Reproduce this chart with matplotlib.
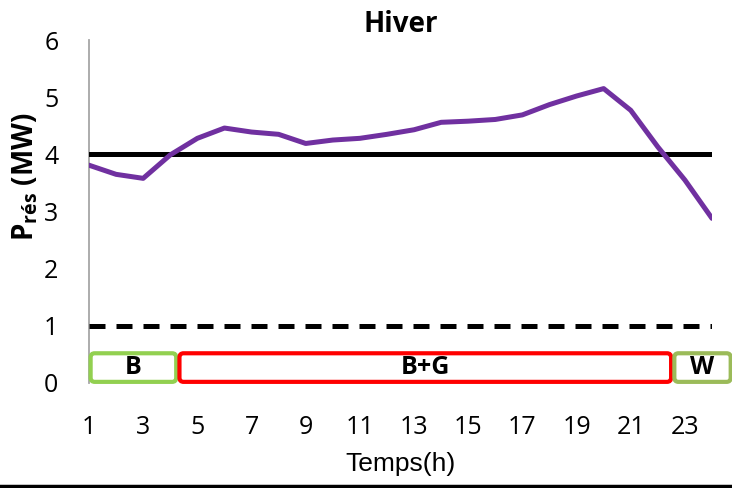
import matplotlib
matplotlib.use("Agg")
import matplotlib.pyplot as plt
from matplotlib.patches import FancyBboxPatch
from matplotlib.lines import Line2D

plt.rcParams['font.family'] = ['Open Sans', 'DejaVu Sans']
plt.rcParams['mathtext.fontset'] = 'custom'
plt.rcParams['mathtext.bf'] = 'Open Sans:bold'
plt.rcParams['mathtext.rm'] = 'Open Sans'

hours = list(range(1, 25))
p_res = [3.81, 3.65, 3.58, 3.99, 4.28, 4.46, 4.39, 4.35, 4.19, 4.25, 4.28, 4.35,
         4.43, 4.56, 4.58, 4.61, 4.69, 4.87, 5.02, 5.15, 4.77, 4.13, 3.55, 2.88]
upper_limit = 4
lower_limit = 1
xtick_vals = list(range(1, 25, 2))
ytick_vals = [0, 1, 2, 3, 4, 5, 6]

# operating mode boxes: (start hour, end hour, label, edge colour)
modes_start = [1.0, 4.28, 22.55]
modes_end = [4.28, 22.55, 24.75]
modes_label = ["B", "B+G", "W"]
modes_color = ["#92D050", "#FF0000", "#9BBB59"]

fig = plt.figure(figsize=(7.32, 4.88), dpi=100)
ax = fig.add_axes([89/732, 1-383/488, (712-89)/732, (383-40)/488])

ax.plot(hours, [upper_limit]*len(hours), color='black', lw=3.6, solid_capstyle='round', zorder=3)
ax.plot([1, 24.1], [lower_limit]*2, color='black', lw=3.6, dashes=(3.2, 2.2), zorder=3)
ax.plot(hours, p_res, color='#7030A0', lw=3.6, solid_capstyle='round', solid_joinstyle='round', zorder=4)

for s, e, lab, c in zip(modes_start, modes_end, modes_label, modes_color):
    box = FancyBboxPatch((s + 0.06, 0.02), (e - s) - 0.12, 0.5,
                         boxstyle="round,pad=0,rounding_size=0.15",
                         mutation_aspect=0.5,
                         facecolor='white', edgecolor=c, lw=3.0, clip_on=False, zorder=5)
    ax.add_patch(box)
    ax.text((s + e) / 2, 0.27, lab, ha='center', va='center', fontsize=18,
            fontweight='bold', zorder=6, clip_on=False)

ax.set_xlim(1, 24)
ax.set_ylim(0, 6)
ax.set_xticks(xtick_vals)
ax.set_xticklabels([str(v) for v in xtick_vals])
ax.set_yticks(ytick_vals)
ax.set_yticklabels([str(v) for v in ytick_vals])
ax.tick_params(axis='both', length=0, labelsize=18)
ax.tick_params(axis='x', pad=23)
ax.tick_params(axis='y', pad=22)

for side in ['top', 'right', 'bottom']:
    ax.spines[side].set_visible(False)
ax.spines['left'].set_color('#A6A6A6')
ax.spines['left'].set_linewidth(1.3)

ax.set_title("Hiver", fontsize=20, fontweight='bold', pad=6)
ax.set_xlabel("Temps(h)", fontsize=19, family=['Liberation Sans'])
ax.xaxis.set_label_coords(0.5, -0.2)
ax.set_ylabel(r'$\mathbf{P}_{\mathbf{rés}}$ (MW)', fontsize=20, fontweight='bold')
ax.yaxis.set_label_coords(-0.078, 0.6)

fig.add_artist(Line2D([0, 1], [1-486/488]*2, color='black', lw=2.5, transform=fig.transFigure))

fig.savefig("out.png", dpi=100)
